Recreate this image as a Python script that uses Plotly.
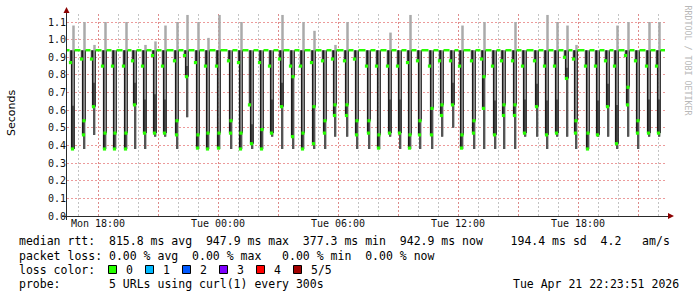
import plotly.graph_objects as go
from datetime import datetime, timedelta

# ---------------- data ----------------
dip_time = [
    "2026-04-20 16:42", "2026-04-20 17:15", "2026-04-20 17:45", "2026-04-20 18:18",
    "2026-04-20 18:48", "2026-04-20 19:21", "2026-04-20 19:48", "2026-04-20 20:18",
    "2026-04-20 20:48", "2026-04-20 21:18", "2026-04-20 21:54", "2026-04-20 22:24",
    "2026-04-20 22:57", "2026-04-20 23:27", "2026-04-21 00:00", "2026-04-21 00:36",
    "2026-04-21 01:06", "2026-04-21 01:39", "2026-04-21 02:09", "2026-04-21 02:39",
    "2026-04-21 03:09", "2026-04-21 03:42", "2026-04-21 04:12", "2026-04-21 04:45",
    "2026-04-21 05:18", "2026-04-21 05:48", "2026-04-21 06:24", "2026-04-21 06:54",
    "2026-04-21 07:30", "2026-04-21 08:00", "2026-04-21 08:33", "2026-04-21 09:03",
    "2026-04-21 09:33", "2026-04-21 10:03", "2026-04-21 10:39", "2026-04-21 11:09",
    "2026-04-21 11:42", "2026-04-21 12:09", "2026-04-21 12:45", "2026-04-21 13:15",
    "2026-04-21 13:48", "2026-04-21 14:15", "2026-04-21 14:48", "2026-04-21 15:18",
    "2026-04-21 15:54", "2026-04-21 16:24", "2026-04-21 16:54", "2026-04-21 17:24",
    "2026-04-21 17:51", "2026-04-21 18:27", "2026-04-21 18:57", "2026-04-21 19:27",
    "2026-04-21 19:54", "2026-04-21 20:27", "2026-04-21 20:57", "2026-04-21 21:30",
    "2026-04-21 22:00",
]
median_base = 0.94  # seconds, median between the dips
g_top = [.87, .89, .89, .85, .85, .85, .88, .85, .91, .85, .88, .91, .87, .85,
         .85, .88, .87, .63, .87, .85, .89, .85, .85, .87, .88, .89, .88, .89,
         .85, .85, .85, .85, .87, .88, .85, .88, .88, .85, .88, .89, .85, .88, .88,
         .85, .88, .85, .85, .90, .89, .85, .85, .88, .85, .91, .88, .85, .85]
g_mid = [None, .54, None, .47, .47, .47, None, None, None, None, .54, None, .46, .47,
         .47, .54, .47, None, .49, None, None, .79, .47, .62, .54, .63, .63, .54,
         .54, .46, None, None, .46, .54, .61, .63, None, .46, .54, .79, None, .63, .63,
         None, None, None, None, None, .54, .47, None, None, None, .73, .54, None, None]
g_low = [.38, .46, .62, .38, .38, .38, .63, .47, .47, .47, .46, .79, .385, .38,
         .385, .47, .38, .41, .38, .47, .62, .45, .38, .41, .47, .57, .57, .46,
         .47, .385, .47, .47, .385, .46, .46, .57, .63, .385, .47, .61, .46, .57, .57,
         .47, .62, .46, .47, .78, .47, .38, .46, .62, .41, .63, .47, .47, .47]
smoke_bottom = [.38, .38, .46, .38, .38, .38, .38, .38, .45, .45, .38, .56, .38, .38,
                .38, .38, .38, .38, .38, .45, .38, .38, .38, .38, .38, .45, .45, .38,
                .38, .38, .45, .38, .38, .38, .38, .45, .50, .38, .38, .38, .38, .38, .38,
                .45, .45, .38, .45, .45, .38, .38, .45, .45, .38, .45, .38, .45, .45]
smoke_top = [1.08, 1.10, .97, 1.10, .94, 1.10, .94, .97, .99, 1.08, 1.10, 1.14, 1.10, 1.01,
             1.14, .94, 1.10, .94, .94, .94, 1.14, .94, 1.10, 1.05, .94, .97, 1.10, .94,
             .94, .94, 1.04, .94, 1.14, .94, .94, .94, .94, 1.08, .94, 1.10, .94, .94, 1.10,
             .94, .94, 1.14, 1.10, 1.08, .97, .94, .94, .94, 1.08, 1.10, .94, 1.10, 1.10]

x_start = "2026-04-20 16:27"
x_end = "2026-04-21 22:21"
tick_times = ["2026-04-20 18:00", "2026-04-20 21:00", "2026-04-21 00:00", "2026-04-21 03:00",
              "2026-04-21 06:00", "2026-04-21 09:00", "2026-04-21 12:00", "2026-04-21 15:00",
              "2026-04-21 18:00", "2026-04-21 21:00"]
tick_labels = ["Mon 18:00", "", "Tue 00:00", "", "Tue 06:00", "", "Tue 12:00", "", "Tue 18:00", ""]

legend_rows = [
    "median rtt:  815.8 ms avg  947.9 ms max  377.3 ms min  942.9 ms now    194.4 ms sd  4.2   am/s",
    "packet loss: 0.00 % avg  0.00 % max   0.00 % min  0.00 % now",
]
loss_labels = ["0", "1", "2", "3", "4", "5/5"]
loss_colors = ["#26ff00", "#00b8ff", "#0059ff", "#7e00ff", "#ff0000", "#a10000"]
probe_text = "5 URLs using curl(1) every 300s"
stamp_text = "Tue Apr 21 22:23:51 2026"

# ---------------- build ----------------
FMT = "%Y-%m-%d %H:%M"
STEP = timedelta(minutes=3)  # one pixel column of the rrd graph
times = [datetime.strptime(s, FMT) for s in dip_time]
t0 = datetime.strptime(x_start, FMT)
t1 = datetime.strptime(x_end, FMT)


def vseg(pairs):
    xs, ys = [], []
    for x, a, b in pairs:
        xs += [x, x, None]
        ys += [a, b, None]
    return xs, ys


fig = go.Figure()

light = vseg([(t + 1.5 * STEP, lo, hi) for t, lo, hi in zip(times, smoke_bottom, smoke_top)])
fig.add_trace(go.Scatter(x=light[0], y=light[1], mode="lines",
                         line=dict(color="#aaaaaa", width=2.5), hoverinfo="skip"))

dark = vseg([(t + 1 * STEP, lo, (m if m is not None else (gt + gl) / 2))
             for t, lo, m, gt, gl in zip(times, smoke_bottom, g_mid, g_top, g_low)])
fig.add_trace(go.Scatter(x=dark[0], y=dark[1], mode="lines",
                         line=dict(color="#555555", width=2), hoverinfo="skip"))

pre = vseg([(t - 1.5 * STEP, gt, median_base) for t, gt in zip(times, g_top)])
fig.add_trace(go.Scatter(x=pre[0], y=pre[1], mode="lines",
                         line=dict(color="#444444", width=1.5), hoverinfo="skip"))

blk = vseg([(t - 0.3 * STEP, gl, median_base) for t, gl in zip(times, g_low)])
fig.add_trace(go.Scatter(x=blk[0], y=blk[1], mode="lines",
                         line=dict(color="#1a1a1a", width=1.6), hoverinfo="skip"))

blk2 = vseg([(t + 2.3 * STEP, (m if m is not None else gl), median_base)
             for t, m, gl in zip(times, g_mid, g_low)])
fig.add_trace(go.Scatter(x=blk2[0], y=blk2[1], mode="lines",
                         line=dict(color="#1a1a1a", width=1), hoverinfo="skip"))

# green median baseline between dips
bx, by = [], []
edges = [t0] + [v for t in times for v in (t - 2.5 * STEP, t + 2.5 * STEP)] + [t1]
for a, b in zip(edges[0::2], edges[1::2]):
    bx += [a, b, None]
    by += [median_base, median_base, None]
fig.add_trace(go.Scatter(x=bx, y=by, mode="lines",
                         line=dict(color="#26ff00", width=2.5), hoverinfo="skip"))

# green median squares inside the dips
gx, gy = [], []
for t, gt, m, gl in zip(times, g_top, g_mid, g_low):
    gx.append(t - 1.5 * STEP); gy.append(gt)
    if m is not None:
        gx.append(t + 1 * STEP); gy.append(m)
    gx.append(t + 0.5 * STEP); gy.append(gl)
fig.add_trace(go.Scatter(x=gx, y=gy, mode="markers",
                         marker=dict(symbol="square", size=3.2, color="#26ff00", line=dict(width=0)),
                         hoverinfo="skip"))

# ---------------- layout ----------------
L, R, T, B = 67, 32, 14, 81
W, H = 697, 297
PW, PH = W - L - R, H - T - B


def px(x):
    return (x - L) / PW


def py(y):
    return (H - B - y) / PH


mono = "DejaVu Sans Mono"
fig.update_layout(
    width=W, height=H, margin=dict(l=L, r=R, t=T, b=B),
    paper_bgcolor="white", plot_bgcolor="white", showlegend=False,
    xaxis=dict(type="date", range=[t0, t1], tickmode="array", tickvals=tick_times,
               ticktext=tick_labels, showgrid=True, gridcolor="rgba(230,120,120,0.75)",
               griddash="2px,2px", gridwidth=1, zeroline=False, showline=False, ticks="",
               tickfont=dict(family=mono, size=10, color="#111"),
               minor=dict(dtick=3600000, tick0="2026-04-20 00:00", showgrid=True,
                          gridcolor="rgba(170,170,170,0.7)", griddash="2px,2px", gridwidth=1)),
    yaxis=dict(range=[0, 1.1454], tickmode="linear", tick0=0, dtick=0.1, tickformat=".1f",
               showgrid=True, gridcolor="rgba(230,120,120,0.75)", griddash="2px,2px", gridwidth=1,
               zeroline=False, showline=False, ticks="",
               tickfont=dict(family=mono, size=10, color="#111")),
)

shapes = []
axis_col = "#2a2a2a"
arrow_col = "#8b0000"
# axes with overhang
shapes.append(dict(type="line", xref="paper", yref="paper", x0=px(62), x1=px(668),
                   y0=py(H - B + 0.5), y1=py(H - B + 0.5), line=dict(color=axis_col, width=1)))
shapes.append(dict(type="line", xref="paper", yref="paper", x0=px(66.5), x1=px(66.5),
                   y0=py(H - B + 4), y1=py(12), line=dict(color=axis_col, width=1)))
# arrows
shapes.append(dict(type="path", xref="paper", yref="paper",
                   path=f"M {px(63.5)} {py(13)} L {px(69.5)} {py(13)} L {px(66.5)} {py(7)} Z",
                   fillcolor=arrow_col, line=dict(color=arrow_col, width=0)))
shapes.append(dict(type="path", xref="paper", yref="paper",
                   path=f"M {px(668)} {py(213)} L {px(668)} {py(219)} L {px(674)} {py(216)} Z",
                   fillcolor=arrow_col, line=dict(color=arrow_col, width=0)))

annotations = []
rows_y = [241, 255.5, 269.5, 283.5]
for i, row in enumerate(legend_rows):
    annotations.append(dict(xref="paper", yref="paper", x=px(16.5), y=py(rows_y[i]),
                            xanchor="left", yanchor="middle", showarrow=False, text=row.replace(" ", "&nbsp;"),
                            font=dict(family=mono, size=11.5, color="#000")))
annotations.append(dict(xref="paper", yref="paper", x=px(16.5), y=py(rows_y[2]),
                        xanchor="left", yanchor="middle", showarrow=False, text="loss color:",
                        font=dict(family=mono, size=11.5, color="#000")))
for i, (lab, col) in enumerate(zip(loss_labels, loss_colors)):
    sx = 108.5 + i * 37
    shapes.append(dict(type="rect", xref="paper", yref="paper", x0=px(sx), x1=px(sx + 8),
                       y0=py(rows_y[2] - 4), y1=py(rows_y[2] + 4), fillcolor=col,
                       line=dict(color="#000", width=1)))
    annotations.append(dict(xref="paper", yref="paper", x=px(sx + 15.5), y=py(rows_y[2]),
                            xanchor="left", yanchor="middle", showarrow=False, text=lab,
                            font=dict(family=mono, size=11.5, color="#000")))
annotations.append(dict(xref="paper", yref="paper", x=px(16.5), y=py(rows_y[3]),
                        xanchor="left", yanchor="middle", showarrow=False, text="probe:",
                        font=dict(family=mono, size=11.5, color="#000")))
annotations.append(dict(xref="paper", yref="paper", x=px(107), y=py(rows_y[3]),
                        xanchor="left", yanchor="middle", showarrow=False, text=probe_text,
                        font=dict(family=mono, size=11.5, color="#000")))
annotations.append(dict(xref="paper", yref="paper", x=px(681), y=py(rows_y[3]),
                        xanchor="right", yanchor="middle", showarrow=False, text=stamp_text,
                        font=dict(family=mono, size=11.5, color="#000")))
annotations.append(dict(xref="paper", yref="paper", x=px(11), y=py(113),
                        xanchor="center", yanchor="middle", showarrow=False, text="Seconds",
                        textangle=-90, font=dict(family="DejaVu Sans", size=11, color="#000")))
annotations.append(dict(xref="paper", yref="paper", x=px(687.5), y=py(60),
                        xanchor="center", yanchor="middle", showarrow=False,
                        text="RRDTOOL / TOBI OETIKER", textangle=90,
                        font=dict(family=mono, size=8.3, color="#b8b8b8")))

fig.update_layout(shapes=shapes, annotations=annotations)
fig.write_html("out.html")
